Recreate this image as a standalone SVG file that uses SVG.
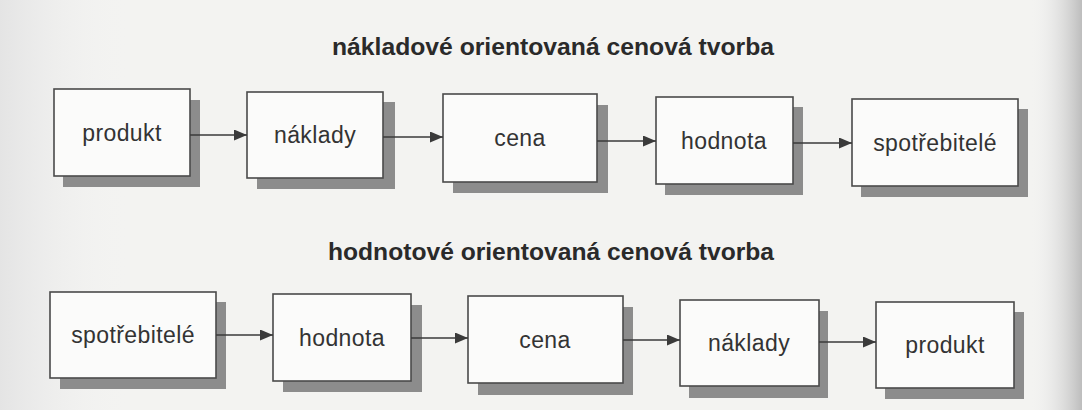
<svg xmlns="http://www.w3.org/2000/svg" width="1082" height="410" viewBox="0 0 1082 410">
  <defs>
    <linearGradient id="edge" x1="0" y1="0" x2="1" y2="0">
      <stop offset="0" stop-color="#f3f3f3" stop-opacity="0"/>
      <stop offset="1" stop-color="#bdbdbd" stop-opacity="1"/>
    </linearGradient>
    <linearGradient id="leftedge" x1="0" y1="0" x2="1" y2="0">
      <stop offset="0" stop-color="#e4e4e4"/>
      <stop offset="1" stop-color="#f3f3f3" stop-opacity="0"/>
    </linearGradient>
    <marker id="arr" markerUnits="userSpaceOnUse" markerWidth="13" markerHeight="11" refX="13" refY="5.5" orient="auto">
      <path d="M0,0 L13,5.5 L0,11 z" fill="#3a3a3a"/>
    </marker>
  </defs>
  <style>
    .bg { fill: #f3f3f1; }
    .shadow { fill: #8c8c8c; }
    .box { fill: #fbfbfa; stroke: #4a4a4a; stroke-width: 1.6; }
    .lbl { font-family: "Liberation Sans", Arial, sans-serif; font-size: 23px; letter-spacing: 0.4px; fill: #333; text-anchor: middle; }
    .title { font-family: "Liberation Sans", Arial, sans-serif; font-size: 23px; font-weight: bold; fill: #2a2a2a; }
    .conn { stroke: #3a3a3a; stroke-width: 1.5; fill: none; marker-end: url(#arr); }
  </style>
  <rect class="bg" x="0" y="0" width="1082" height="410"/>
  <rect x="0" y="0" width="130" height="410" fill="url(#leftedge)"/>
  <rect x="1030" y="0" width="52" height="410" fill="url(#edge)"/>

  <text class="title" x="332" y="55" textLength="442" lengthAdjust="spacingAndGlyphs">nákladové orientovaná cenová tvorba</text>
  <text class="title" x="328" y="260" textLength="446" lengthAdjust="spacingAndGlyphs">hodnotové orientovaná cenová tvorba</text>

  <g id="top-produkt">
    <rect class="shadow" x="63" y="100" width="137" height="87"/>
    <rect class="box" x="54" y="89" width="136" height="87"/>
    <text class="lbl" x="122" y="141">produkt</text>
  </g>
  <g id="top-naklady">
    <rect class="shadow" x="257" y="102" width="138" height="87"/>
    <rect class="box" x="247" y="92" width="136" height="86"/>
    <text class="lbl" x="315" y="143">náklady</text>
  </g>
  <g id="top-cena">
    <rect class="shadow" x="453" y="105" width="155" height="88"/>
    <rect class="box" x="443" y="94" width="154" height="88"/>
    <text class="lbl" x="520" y="146">cena</text>
  </g>
  <g id="top-hodnota">
    <rect class="shadow" x="665" y="107" width="138" height="88"/>
    <rect class="box" x="656" y="97" width="137" height="87"/>
    <text class="lbl" x="724" y="149">hodnota</text>
  </g>
  <g id="top-spotrebitele">
    <rect class="shadow" x="861" y="109" width="167" height="88"/>
    <rect class="box" x="852" y="99" width="166" height="87"/>
    <text class="lbl" x="935" y="151">spotřebitelé</text>
  </g>

  <g id="bottom-spotrebitele">
    <rect class="shadow" x="60" y="302" width="166" height="87"/>
    <rect class="box" x="50" y="292" width="166" height="86"/>
    <text class="lbl" x="133" y="343">spotřebitelé</text>
  </g>
  <g id="bottom-hodnota">
    <rect class="shadow" x="283" y="305" width="139" height="87"/>
    <rect class="box" x="273" y="294" width="138" height="87"/>
    <text class="lbl" x="342" y="346">hodnota</text>
  </g>
  <g id="bottom-cena">
    <rect class="shadow" x="478" y="307" width="155" height="88"/>
    <rect class="box" x="468" y="296" width="155" height="87"/>
    <text class="lbl" x="545" y="348">cena</text>
  </g>
  <g id="bottom-naklady">
    <rect class="shadow" x="689" y="311" width="139" height="87"/>
    <rect class="box" x="680" y="300" width="139" height="86"/>
    <text class="lbl" x="749" y="351">náklady</text>
  </g>
  <g id="bottom-produkt">
    <rect class="shadow" x="885" y="312" width="139" height="87"/>
    <rect class="box" x="876" y="302" width="138" height="86"/>
    <text class="lbl" x="945" y="353">produkt</text>
  </g>

  <g id="connectors">
    <line class="conn" x1="190" y1="135" x2="247" y2="135"/>
    <line class="conn" x1="383" y1="137" x2="443" y2="137"/>
    <line class="conn" x1="597" y1="141" x2="656" y2="141"/>
    <line class="conn" x1="793" y1="143" x2="852" y2="143"/>
    <line class="conn" x1="216" y1="335" x2="273" y2="335"/>
    <line class="conn" x1="411" y1="338" x2="468" y2="338"/>
    <line class="conn" x1="623" y1="340" x2="680" y2="340"/>
    <line class="conn" x1="819" y1="342" x2="876" y2="342"/>
  </g>
</svg>
